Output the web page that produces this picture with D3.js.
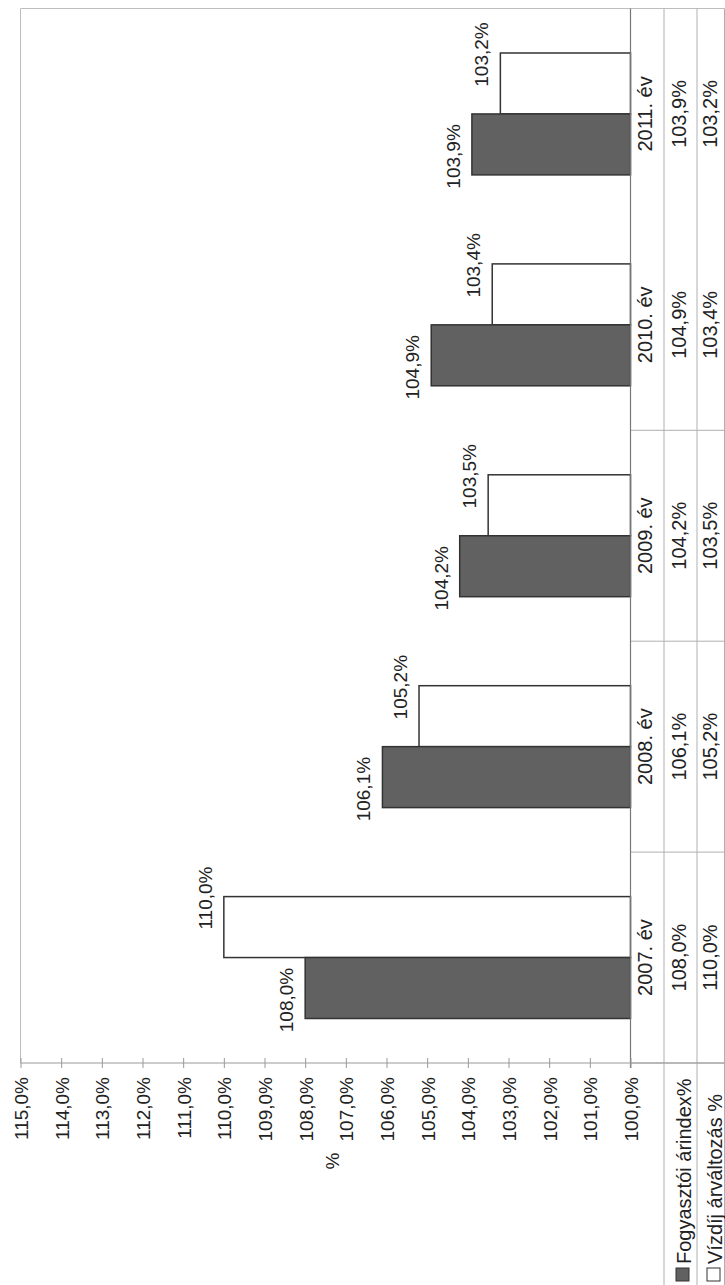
<!DOCTYPE html>
<html>
<head>
<meta charset="utf-8">
<script src="https://cdnjs.cloudflare.com/ajax/libs/d3/7.8.5/d3.min.js"></script>
<title>Fogyasztói árindex és vízdíj</title>
<style>
body { margin: 0; background: #fff; }
svg { display: block; font-family: "Liberation Sans", Arial, sans-serif; }
text { fill: #222; }
</style>
</head>
<body>
<svg width="725" height="1285"></svg>
<script>
// data
var categories = ["2007. év", "2008. év", "2009. év", "2010. év", "2011. év"];
var seriesNames = ["Fogyasztói árindex%", "Vízdíj árváltozás %"];
var fogyasztoi = [108.0, 106.1, 104.2, 104.9, 103.9];
var vizdij = [110.0, 105.2, 103.5, 103.4, 103.2];
var valueTicks = [100, 101, 102, 103, 104, 105, 106, 107, 108, 109, 110, 111, 112, 113, 114, 115];

var svg = d3.select("svg");
var fmt = function(v) { return d3.format(".1f")(v).replace(".", ",") + "%"; };

// chart is drawn turned on its side: values run right -> left, categories bottom -> top
var pLeft = 20.5, pBase = 630.5, pTop = 8.5, pBottom = 1063;
var col1 = 664, col2 = 697, pRight = 724.5;

var x = d3.scaleLinear().domain([100, 115]).range([pBase, pLeft]);
var y = d3.scaleBand().domain(categories.slice().reverse()).range([pTop, pBottom]);
var bw = y.bandwidth();
var sub = d3.scaleBand().domain(["viz", "fogy"]).range([bw * 0.211, bw * 0.789]);

var rows = categories.map(function(c, i) {
  return {cat: c, fogy: fogyasztoi[i], viz: vizdij[i]};
});

// plot frame
svg.append("line").attr("x1", pLeft).attr("x2", pRight).attr("y1", pTop).attr("y2", pTop)
  .attr("stroke", "#bdbdbd");
svg.append("line").attr("x1", pLeft).attr("x2", pLeft).attr("y1", pTop).attr("y2", pBottom)
  .attr("stroke", "#bdbdbd");

// table grid
[col1, col2, pRight].forEach(function(cx) {
  svg.append("line").attr("x1", cx).attr("x2", cx).attr("y1", pTop).attr("y2", 1285)
    .attr("stroke", "#b0b0b0");
});
svg.selectAll(".sep")
  .data(categories.slice(0, 4))
  .enter().append("line")
  .attr("class", "sep")
  .attr("x1", pBase).attr("x2", pRight)
  .attr("y1", function(d) { return y(d) + bw; })
  .attr("y2", function(d) { return y(d) + bw; })
  .attr("stroke", "#b0b0b0");

// bars
var g = svg.append("g");
var groups = g.selectAll(".grp")
  .data(rows)
  .enter().append("g")
  .attr("class", "grp")
  .attr("transform", function(d) { return "translate(0," + y(d.cat) + ")"; });

groups.append("rect")
  .attr("x", function(d) { return x(d.viz); })
  .attr("y", sub("viz"))
  .attr("width", function(d) { return pBase - x(d.viz); })
  .attr("height", sub.bandwidth())
  .attr("fill", "#fff")
  .attr("stroke", "#333")
  .attr("stroke-width", 1.5);

groups.append("rect")
  .attr("x", function(d) { return x(d.fogy); })
  .attr("y", sub("fogy"))
  .attr("width", function(d) { return pBase - x(d.fogy); })
  .attr("height", sub.bandwidth())
  .attr("fill", "#616161")
  .attr("stroke", "#333")
  .attr("stroke-width", 1.5);

// data labels
groups.append("text")
  .attr("transform", function(d) {
    return "translate(" + (x(d.viz) - 12) + "," + (sub("viz") + sub.bandwidth() / 2 - 29) + ") rotate(-90)";
  })
  .attr("text-anchor", "middle")
  .style("font-size", "19px")
  .text(function(d) { return fmt(d.viz); });

groups.append("text")
  .attr("transform", function(d) {
    return "translate(" + (x(d.fogy) - 12) + "," + (sub("fogy") + sub.bandwidth() / 2 + 12) + ") rotate(-90)";
  })
  .attr("text-anchor", "middle")
  .style("font-size", "19px")
  .text(function(d) { return fmt(d.fogy); });

// category axis line
svg.append("line").attr("x1", pBase).attr("x2", pBase).attr("y1", pTop).attr("y2", pBottom + 5)
  .attr("stroke", "#777").attr("stroke-width", 1.2);

// value axis
var xAxis = d3.axisBottom(x).tickValues(valueTicks).tickFormat(fmt).tickSizeInner(5).tickSizeOuter(0);
var ax = svg.append("g")
  .attr("transform", "translate(0," + pBottom + ")")
  .call(xAxis);
ax.select(".domain").attr("stroke", "#999").attr("d", "M" + pLeft + ",0H" + pRight);
ax.selectAll(".tick line").attr("stroke", "#999").attr("y1", -5).attr("y2", 5);
ax.selectAll(".tick text")
  .attr("x", -14).attr("y", 7).attr("dy", null)
  .attr("transform", "rotate(-90)")
  .style("text-anchor", "end")
  .style("font-size", "19px")
  .style("font-family", "'Liberation Sans', Arial, sans-serif")
  .attr("fill", "#222");

// axis title
svg.append("text")
  .attr("transform", "translate(339,1161) rotate(-90)")
  .attr("text-anchor", "middle")
  .style("font-size", "19px")
  .text("%");

// data table: category names and values
var cells = svg.selectAll(".cell")
  .data(rows)
  .enter().append("g")
  .attr("class", "cell")
  .attr("transform", function(d) { return "translate(0," + (y(d.cat) + bw / 2) + ")"; });

cells.append("text")
  .attr("transform", "translate(652,0) rotate(-90)")
  .attr("text-anchor", "middle")
  .style("font-size", "20px")
  .text(function(d) { return d.cat; });
cells.append("text")
  .attr("transform", "translate(686,0) rotate(-90)")
  .attr("text-anchor", "middle")
  .style("font-size", "20px")
  .text(function(d) { return fmt(d.fogy); });
cells.append("text")
  .attr("transform", "translate(717,0) rotate(-90)")
  .attr("text-anchor", "middle")
  .style("font-size", "20px")
  .text(function(d) { return fmt(d.viz); });

// legend keys in the table row headers
var keyFill = ["#616161", "#fff"];
var keyX = [676, 707];
var keys = svg.selectAll(".key")
  .data(seriesNames)
  .enter().append("g")
  .attr("class", "key");
keys.append("rect")
  .attr("x", function(d, i) { return keyX[i]; })
  .attr("y", 1268)
  .attr("width", 13).attr("height", 13)
  .attr("fill", function(d, i) { return keyFill[i]; })
  .attr("stroke", "#333");
keys.append("text")
  .attr("transform", function(d, i) { return "translate(" + (keyX[i] + 15) + ",1264) rotate(-90)"; })
  .attr("text-anchor", "start")
  .style("font-size", "20px")
  .text(function(d) { return d; });
</script>
</body>
</html>
